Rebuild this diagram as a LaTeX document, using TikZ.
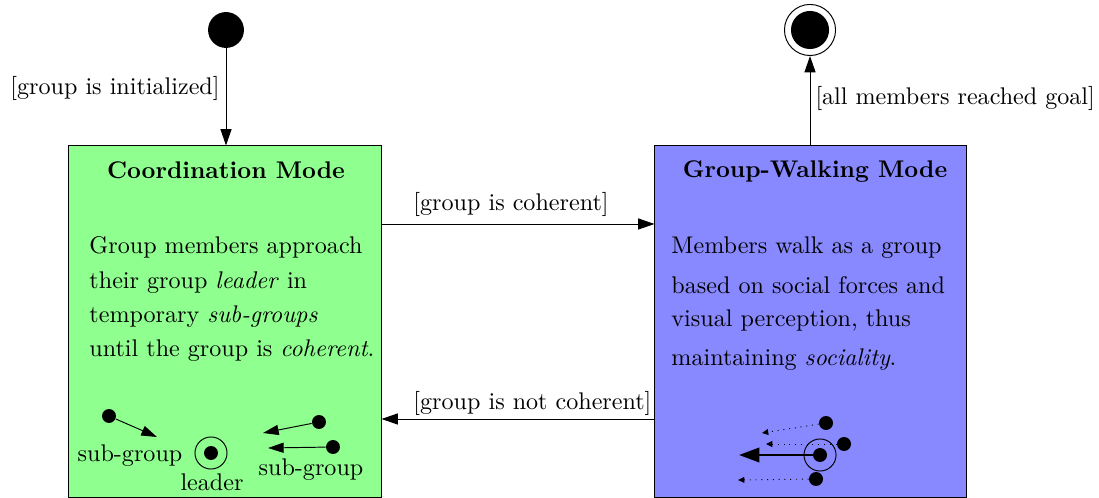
\documentclass[tikz,border=0pt]{standalone}
\usetikzlibrary{arrows.meta}
\definecolor{coordgreen}{RGB}{143,255,143}
\definecolor{walkblue}{RGB}{136,136,255}
\begin{document}
\begin{tikzpicture}[x=0.415pt,y=-0.415pt,
  statebox/.style={draw=black, thin, rectangle, inner sep=0pt},
  startdot/.style={circle, fill=black, inner sep=0pt, minimum size=14.9pt},
  enddot/.style={circle, fill=black, inner sep=0pt, minimum size=15.8pt},
  endring/.style={circle, draw=black, thin, inner sep=0pt, minimum size=21.2pt},
  person/.style={circle, fill=black, inner sep=0pt, minimum size=5.8pt},
  leaderring/.style={circle, draw=black, thin, inner sep=0pt, minimum size=13.3pt},
  txt/.style={inner sep=0pt, anchor=base west},
  ctxt/.style={inner sep=0pt, anchor=base},
  trans/.style={-{Triangle[length=6.8pt,width=4.6pt]}, thin},
  move/.style={-{Triangle[length=6.5pt,width=4.2pt]}, thin},
  movethick/.style={-{Triangle[length=8.5pt,width=6pt]}, line width=1.1pt},
  movedot/.style={-{Triangle[length=2.6pt,width=2.4pt]}, thin, dotted}]
\useasboundingbox (0,0) rectangle (1099,498);
% state boxes
\node[statebox, fill=coordgreen, minimum width=129.5pt, minimum height=145.7pt] (coord) at (225,321.5) {};
\node[statebox, fill=walkblue, minimum width=129.1pt, minimum height=145.7pt] (walk) at (810.5,321.5) {};
% initial and final
\node[startdot] (init) at (226,30) {};
\node[endring] (finalring) at (810,30) {};
\node[enddot] (final) at (810,30) {};
% titles
\node[ctxt] (ctitle) at (226,179) {\bfseries Coordination Mode};
\node[ctxt] (wtitle) at (815,178) {\bfseries Group-Walking Mode};
% descriptions (base anchor = last line's baseline)
\node[txt, align=left, font=\fontsize{10}{14.3}\selectfont] (cdesc) at (89,357)
  {Group members approach\\ their group \emph{leader} in\\ temporary \emph{sub-groups}\\ until the group is \emph{coherent}.};
\node[txt, align=left, font=\fontsize{10}{13.6}\selectfont] (wdesc) at (671,366)
  {Members walk as a group\\[3.2pt] based on social forces and\\ visual perception, thus\\[2.8pt] maintaining \emph{sociality}.};
% transitions
\coordinate (yc) at (0,224);
\coordinate (ync) at (0,419);
\draw[trans] (init) -- (init |- coord.north);
\draw[trans] (walk.north -| finalring) -- (finalring);
\draw[trans] (coord.east |- yc) -- (walk.west |- yc);
\draw[trans] (walk.west |- ync) -- (coord.east |- ync);
\node[txt] (linit) at (10,95) {[group is initialized]};
\node[txt] (lfinal) at (815,105) {[all members reached goal]};
\node[txt] (lcoh) at (413,211) {[group is coherent]};
\node[txt] (lncoh) at (413,410) {[group is not coherent]};
% coordination sketch
\node[person] (p1) at (109,416) {};
\node[person] (p2) at (319,422) {};
\node[person] (p3) at (333,447) {};
\node[leaderring] (lring) at (211,453) {};
\node[person] (lead) at (211,453) {};
\coordinate (t1) at (157,437);
\coordinate (t2) at (263,433);
\coordinate (t3) at (268,448);
\draw[move] (p1) -- (t1);
\draw[move] (p2) -- (t2);
\draw[move] (p3) -- (t3);
\node[ctxt] (sg1) at (130,462) {sub-group};
\node[ctxt] (sg2) at (311,476) {sub-group};
\node[ctxt] (lleader) at (212,491) {leader};
% walking sketch
\node[person] (q1) at (826,423) {};
\node[person] (q2) at (844,444) {};
\node[leaderring] (wring) at (820,455) {};
\node[person] (wlead) at (820,455) {};
\node[person] (q4) at (816,479) {};
\coordinate (u1) at (762,433);
\coordinate (u2) at (766,444);
\coordinate (u3) at (739,455);
\coordinate (u4) at (738,480);
\draw[movedot] (q1) -- (u1);
\draw[movedot] (q2) -- (u2);
\draw[movethick] (wlead.center) -- (u3);
\draw[movedot] (q4) -- (u4);
\end{tikzpicture}
\end{document}
